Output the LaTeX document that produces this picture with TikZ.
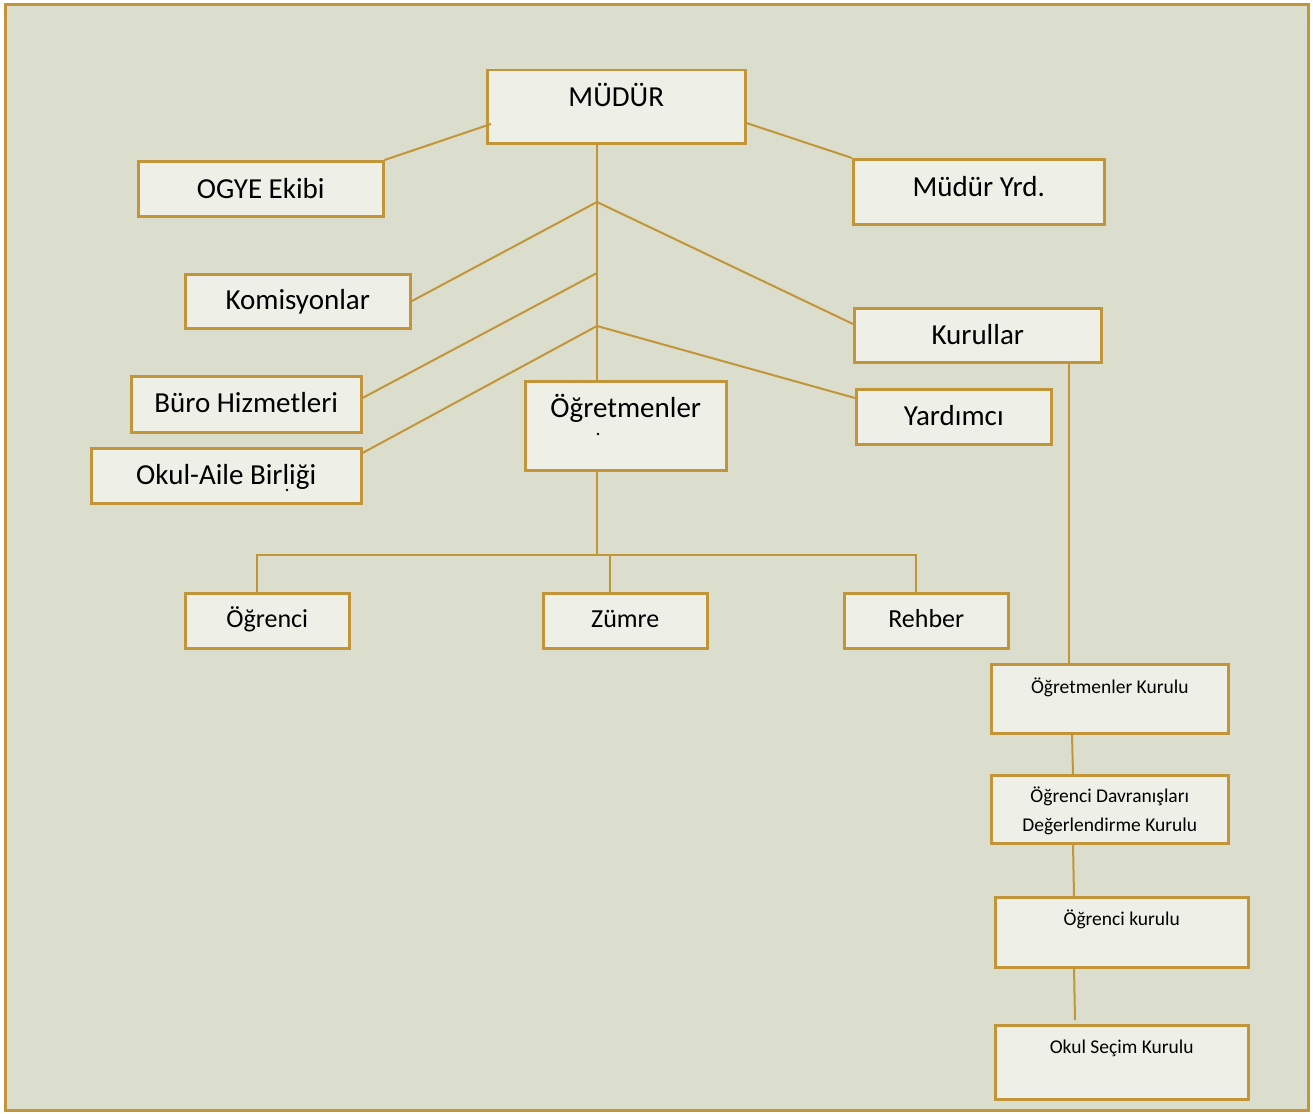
\documentclass[tikz,border=0pt]{standalone}
\usepackage{fontspec}
\setmainfont{Carlito}
\usetikzlibrary{positioning,calc}
\definecolor{orgline}{RGB}{194,150,56}
\definecolor{orgback}{RGB}{219,222,204}
\definecolor{orgfill}{RGB}{238,239,230}
\tikzset{
  org box/.style={draw=orgline, fill=orgfill, line width=2.5pt, inner sep=0pt,
     anchor=north west, align=center},
  big/.style={font=\fontsize{29}{35}\selectfont},
  mid/.style={font=\fontsize{26}{32}\selectfont},
  small/.style={font=\fontsize{19.5}{28.5}\selectfont},
  wire/.style={draw=orgline, line width=2pt},
}
\begin{document}
\begin{tikzpicture}[x=1pt, y=-1pt]
  \useasboundingbox (0,0) rectangle (1313,1113);
  \draw[draw=orgline, fill=orgback, line width=3pt] (5,5) rectangle (1308,1110);

  % Boxes
  \node[org box, big, minimum width=258pt, text height=36pt, text depth=37pt] (mudur) at (486,69) {MÜDÜR};
  \node[org box, big, minimum width=245pt, text height=37pt, text depth=18pt] (ogye) at (137,160) {OGYE Ekibi};
  \node[org box, big, minimum width=251pt, text height=37pt, text depth=28pt] (yrd) at (852,158) {Müdür Yrd.};
  \node[org box, big, minimum width=225pt, text height=35pt, text depth=19pt] (komisyon) at (184,273) {Komisyonlar};
  \node[org box, big, minimum width=247pt, text height=36pt, text depth=18pt] (kurullar) at (853,307) {Kurullar};
  \node[org box, big, minimum width=230pt, text height=36pt, text depth=20pt] (buro) at (130,375) {Büro Hizmetleri};
  \node[org box, big, minimum width=270pt, text height=36pt, text depth=19pt] (okulaile) at (90,447) {Okul-Aile Birliği};
  \node[org box, big, minimum width=201pt, text height=36pt, text depth=53pt] (ogretmen) at (524,380) {Öğretmenler};
  \node[org box, big, minimum width=195pt, text height=36pt, text depth=19pt] (yardimci) at (855,388) {Yardımcı};
  \node[org box, mid, minimum width=164pt, text height=34pt, text depth=21pt] (ogrenci) at (184,592) {Öğrenci};
  \node[org box, mid, minimum width=164pt, text height=34pt, text depth=21pt] (zumre) at (542,592) {Zümre};
  \node[org box, mid, minimum width=164pt, text height=34pt, text depth=21pt] (rehber) at (843,592) {Rehber};
  \node[org box, small, minimum width=237pt, text height=29pt, text depth=40pt] (ogrkurul) at (990,663) {Öğretmenler Kurulu};
  \node[org box, small, minimum width=237pt, text height=56pt, text depth=12pt] (davranis) at (990,774) {Öğrenci Davranışları\\Değerlendirme Kurulu};
  \node[org box, small, minimum width=253pt, text height=28pt, text depth=42pt] (ogrencikurul) at (994,896) {Öğrenci kurulu};
  \node[org box, small, minimum width=253pt, text height=28pt, text depth=46pt] (secim) at (994,1024) {Okul Seçim Kurulu};

  % stray dots
  \fill (598,434) circle (1.3pt);
  \fill (287,490) circle (1.3pt);

  % Hubs on the trunk
  \coordinate (hubA) at (597,202);
  \coordinate (hubB) at (597,273);
  \coordinate (hubC) at (597,326);
  \coordinate (busL) at (257,555);
  \coordinate (busM) at (610,555);
  \coordinate (busR) at (916,555);

  % Wires
  \draw[wire] ($(mudur.north west)+(5,55)$) -- (ogye.north east);
  \draw[wire] ($(mudur.north east)+(0,54)$) -- (yrd.north west);
  \draw[wire] (hubA |- mudur.south) -- (hubA |- ogretmen.north);
  \draw[wire] (hubA) -- (komisyon.east);
  \draw[wire] (hubA) -- ($(kurullar.north west)+(0,17)$);
  \draw[wire] (hubB) -- ($(buro.north east)+(0,23)$);
  \draw[wire] (hubC) -- ($(okulaile.north east)+(0,6)$);
  \draw[wire] (hubC) -- ($(yardimci.north west)+(0,10)$);
  \draw[wire] (hubA |- ogretmen.south) -- ++(0,82);
  \draw[wire] (busL |- ogrenci.north) -- (busL) -- (busR) -- (busR |- rehber.north);
  \draw[wire] (busM) -- (busM |- zumre.north);
  \draw[wire] ($(kurullar.south west)+(216,0)$) -- ($(ogrkurul.north west)+(79,0)$);
  \draw[wire] ($(ogrkurul.south west)+(82,0)$) -- ($(davranis.north west)+(83,0)$);
  \draw[wire] ($(davranis.south west)+(83,0)$) -- ($(ogrencikurul.north west)+(80,0)$);
  \draw[wire] ($(ogrencikurul.south west)+(80,0)$) -- ($(secim.north west)+(81,-4)$);
\end{tikzpicture}
\end{document}
